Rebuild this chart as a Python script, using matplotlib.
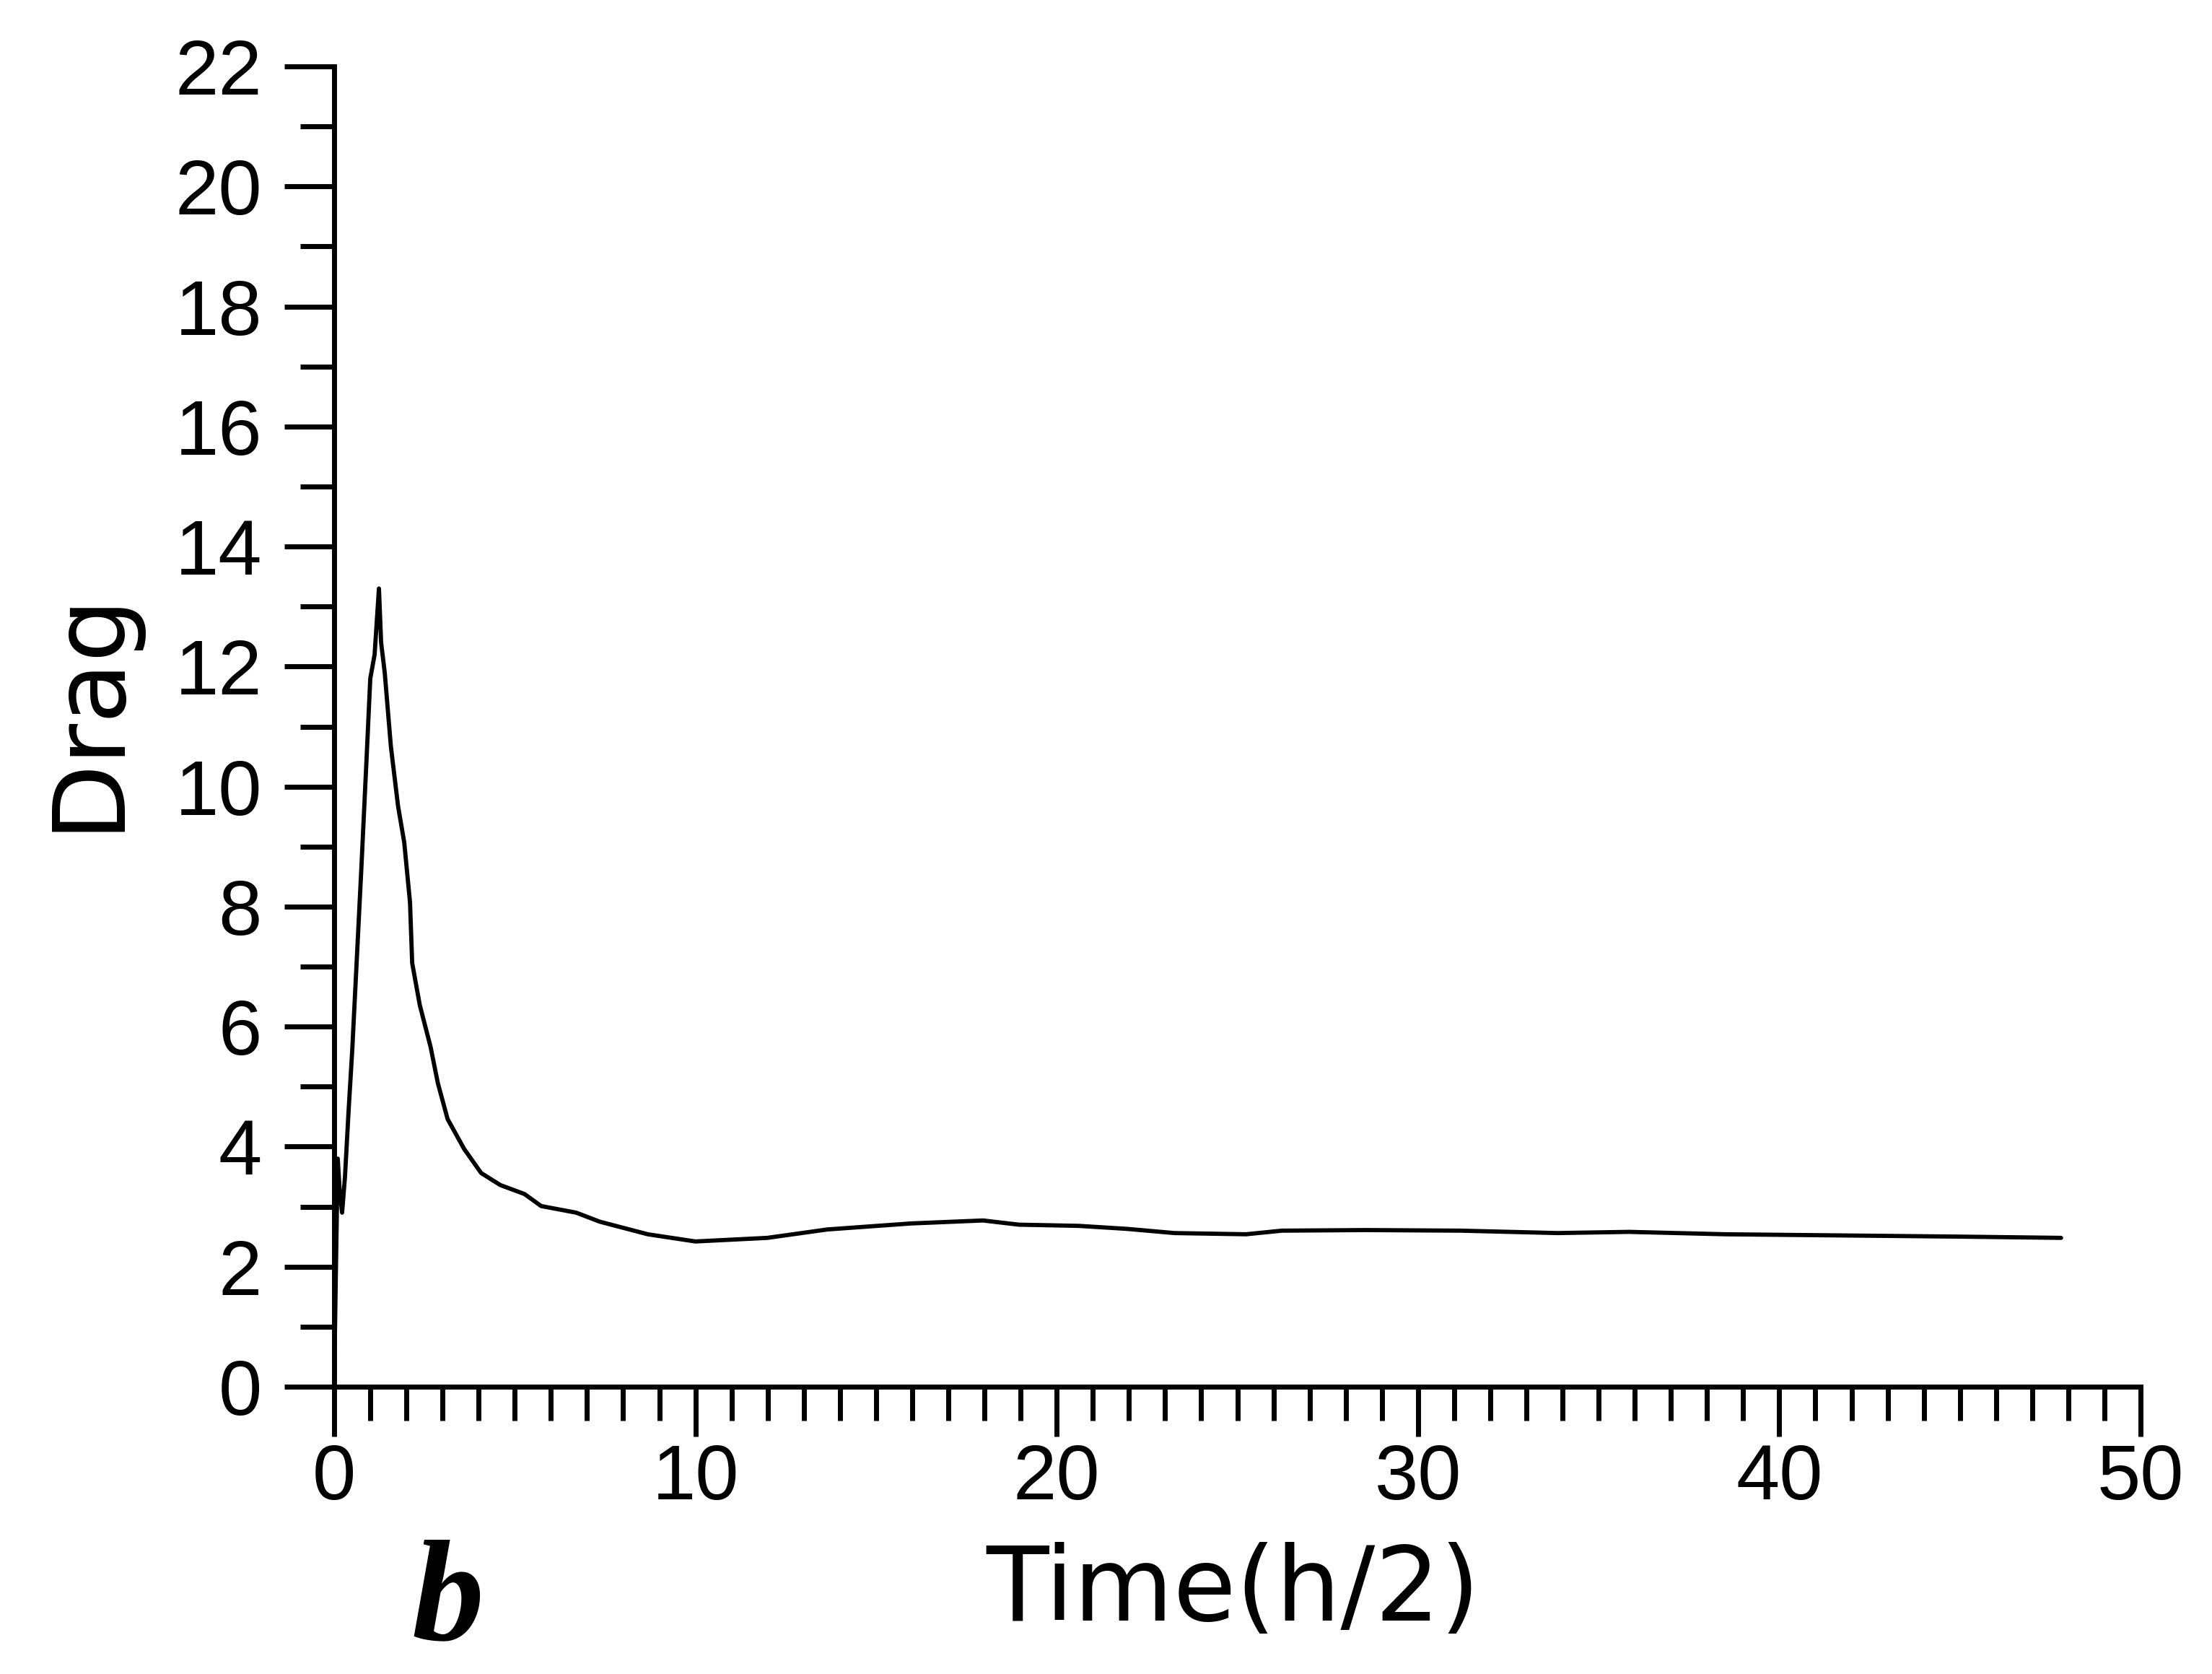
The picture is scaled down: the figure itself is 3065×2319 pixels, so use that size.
import matplotlib
matplotlib.use('Agg')
import matplotlib.pyplot as plt
from matplotlib.ticker import MultipleLocator

# ---- data ----
time = [0, 0.05, 0.1, 0.15, 0.22, 0.3, 0.4, 0.5, 0.6, 0.75, 0.9, 1.0, 1.12, 1.24,
        1.3, 1.4, 1.57, 1.77, 1.94, 2.10, 2.16, 2.37, 2.67, 2.87, 3.14, 3.6, 4.07,
        4.6, 5.27, 5.73, 6.7, 7.35, 8.68, 10.0, 11.99, 13.65, 15.96, 17.96, 18.95,
        20.61, 21.94, 23.26, 25.24, 26.23, 28.55, 31.2, 33.86, 35.84, 38.5, 41.8,
        45.1, 47.8]
drag = [0, 2.0, 3.8, 3.3, 2.9, 3.5, 4.6, 5.6, 6.8, 8.6, 10.5, 11.8, 12.2, 13.3,
        12.4, 11.9, 10.67, 9.67, 9.07, 8.07, 7.06, 6.36, 5.66, 5.06, 4.46, 3.96,
        3.56, 3.36, 3.21, 3.01, 2.9, 2.75, 2.54, 2.42, 2.48, 2.62, 2.72, 2.77,
        2.70, 2.68, 2.63, 2.56, 2.54, 2.60, 2.61, 2.60, 2.56, 2.58, 2.54, 2.52,
        2.50, 2.48]
x_ticks = [0, 10, 20, 30, 40, 50]
y_ticks = [0, 2, 4, 6, 8, 10, 12, 14, 16, 18, 20, 22]
x_label = "Time(h/2)"
y_label = "Drag"
panel_label = "b"

plt.rcParams['font.family'] = ['Liberation Sans', 'DejaVu Sans']

W, H = 3065, 2319
fig = plt.figure(figsize=(W / 100, H / 100), dpi=100)
x0, x1 = 463, 2966
y0, y1 = 1921, 92
ax = fig.add_axes([x0 / W, (H - y0) / H, (x1 - x0) / W, (y0 - y1) / H])

ax.plot(time, drag, color='black', lw=4.2, clip_on=False,
        solid_joinstyle='round', solid_capstyle='round')

ax.set_xlim(0, 50)
ax.set_ylim(0, 22)
for s in ['top', 'right']:
    ax.spines[s].set_visible(False)
for s in ['left', 'bottom']:
    ax.spines[s].set_linewidth(5)
    ax.spines[s].set_capstyle('projecting')

ax.set_xticks(x_ticks)
ax.set_yticks(y_ticks)
ax.xaxis.set_minor_locator(MultipleLocator(1))
ax.yaxis.set_minor_locator(MultipleLocator(1))
ax.tick_params(which='major', length=50, width=5, direction='out',
               labelsize=78, color='black')
ax.tick_params(which='minor', length=34, width=5, direction='out')
ax.tick_params(axis='y', which='major', pad=22)
ax.tick_params(axis='x', which='major', pad=6)

ax.set_ylabel(y_label, fontsize=100, family='DejaVu Sans',
              rotation_mode='anchor', va='baseline', ha='center')
ax.yaxis.set_label_coords((160 - x0) / (x1 - x0), 0.5 + 23 / (y0 - y1))
ax.set_xlabel(x_label, fontsize=102, family='DejaVu Sans', va='baseline', ha='center')
ax.xaxis.set_label_coords(0.4975, (y0 - 2245) / (y0 - y1))

fig.text(620 / W, 0.003, panel_label, ha='center', va='bottom',
         fontsize=144, family='Liberation Serif', fontweight='bold', fontstyle='italic')

fig.savefig('out.png', dpi=100, facecolor='white')
